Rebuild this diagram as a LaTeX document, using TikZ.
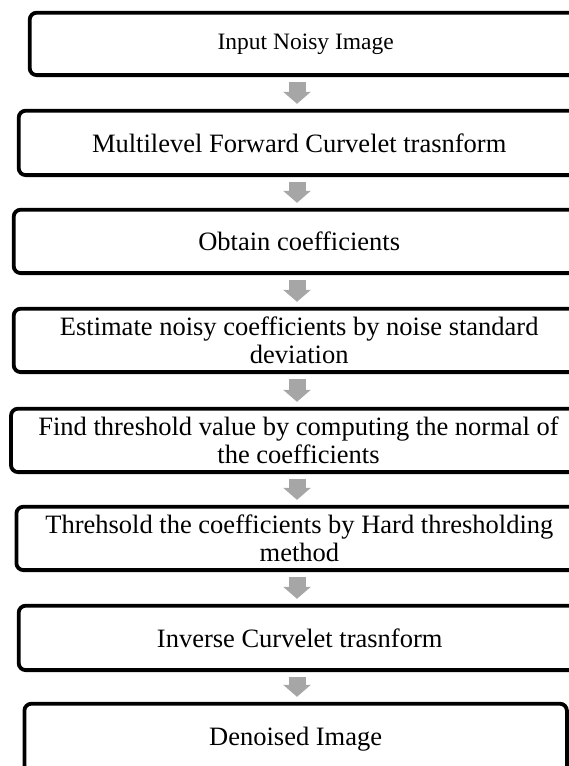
\documentclass[tikz,border=0pt]{standalone}
\usepackage{fontspec}
\setmainfont{Liberation Serif}
\usetikzlibrary{arrows.meta,positioning}
\newcommand{\picWidth}{569}
\newcommand{\picHeight}{766}
\newcommand{\arrowX}{297}
\newcommand{\boxLine}{3.8pt}
\newcommand{\stepFont}{\fontsize{26.5}{27.5}\selectfont}
\definecolor{arrowGray}{HTML}{A6A6A6}

\begin{document}
\begin{tikzpicture}[x=1pt, y=-1pt,
    stepbox/.style={draw, line width=\boxLine, rounded corners=7pt,
        anchor=north west, align=center, inner sep=0pt, font=\stepFont},
    flowarrow/.style={line width=17pt, draw=arrowGray, shorten <=4.5pt, shorten >=5pt,
        -{Triangle[width=27pt,length=12pt]}}]
\useasboundingbox (0,0) rectangle (\picWidth,\picHeight);
\clip (0,0) rectangle (\picWidth,\picHeight);
\coordinate (axis) at (\arrowX,0);

% processing steps, top to bottom
\node[stepbox, minimum width=552pt, minimum height=62.4pt, font=\fontsize{23.5}{27}\selectfont]
    (input) at (27.8,10.8) {Input Noisy Image};
\node[stepbox, minimum width=561pt, minimum height=64.4pt]
    (forward) at (16.8,108.8) {Multilevel Forward Curvelet trasnform};
\node[stepbox, minimum width=571pt, minimum height=63.4pt]
    (coeff) at (11.8,207.8) {Obtain coefficients};
\node[stepbox, minimum width=571pt, minimum height=63.4pt]
    (estimate) at (11.8,306.8) {Estimate noisy coefficients by noise standard\\deviation};
\node[stepbox, minimum width=575pt, minimum height=63.4pt]
    (findthr) at (9.1,406.8) {Find threshold value by computing the normal of\\the coefficients};
\node[stepbox, minimum width=566pt, minimum height=63.4pt]
    (hardthr) at (14.5,504.8) {Threhsold the coefficients by Hard thresholding\\method};
\node[stepbox, minimum width=562pt, minimum height=64.4pt]
    (inverse) at (16.8,603.8) {Inverse Curvelet trasnform};
\node[stepbox, minimum width=542.5pt, minimum height=70pt]
    (output) at (22.5,701.8) {Denoised Image};

% gray block arrows between the steps
\draw[flowarrow] (input.south -| axis) -- (forward.north -| axis);
\draw[flowarrow] (forward.south -| axis) -- (coeff.north -| axis);
\draw[flowarrow] (coeff.south -| axis) -- (estimate.north -| axis);
\draw[flowarrow] (estimate.south -| axis) -- (findthr.north -| axis);
\draw[flowarrow] (findthr.south -| axis) -- (hardthr.north -| axis);
\draw[flowarrow] (hardthr.south -| axis) -- (inverse.north -| axis);
\draw[flowarrow] (inverse.south -| axis) -- (output.north -| axis);
\end{tikzpicture}
\end{document}
